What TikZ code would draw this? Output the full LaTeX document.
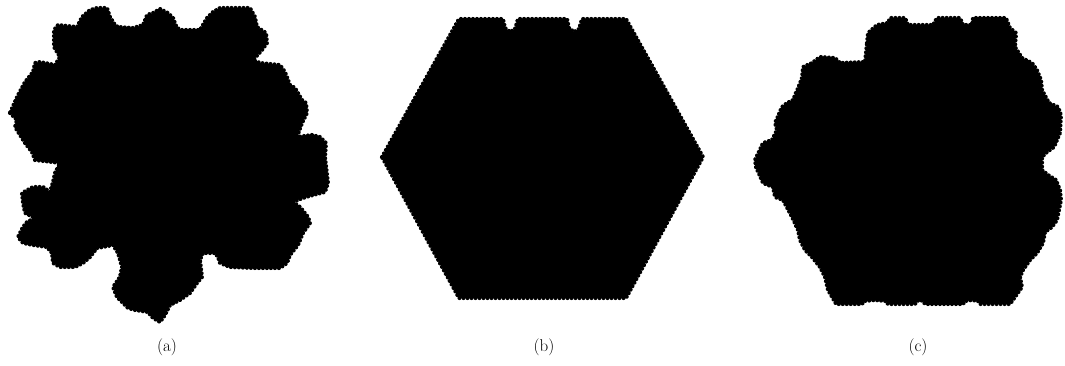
\documentclass[tikz,border=0pt]{standalone}
\usetikzlibrary{decorations.markings}
\begin{document}
\begin{tikzpicture}[x=1pt,y=-1pt,
  blob/.style={fill=black, line join=round, postaction={decorate},
    decoration={markings, mark=between positions 0 and 1 step 4pt with {\fill[black] (0,0) circle (2.1pt);}}},
  caption/.style={font=\fontsize{17}{20}\selectfont, inner sep=0pt}]
\useasboundingbox (0,0) rectangle (1065,366);
% (a)
\path[blob] (10,113) -- (17,120) -- (15,127) -- (20,135) -- (25,143) -- (32,152) -- (35,160) -- (52,162) -- (60,163) -- (55,173) -- (53,182) -- (50,192) -- (43,187) -- (33,187) -- (22,193) -- (23,203) -- (25,213) -- (35,218) -- (27,222) -- (23,227) -- (18,237) -- (23,243) -- (33,245) -- (47,247) -- (52,253) -- (53,263) -- (60,267) -- (75,267) -- (83,263) -- (90,257) -- (97,248) -- (103,247) -- (113,245) -- (118,253) -- (122,267) -- (120,277) -- (113,287) -- (117,297) -- (128,308) -- (135,310) -- (148,312) -- (153,318) -- (160,322) -- (165,315) -- (170,305) -- (180,300) -- (190,293) -- (197,283) -- (202,277) -- (200,260) -- (203,253) -- (215,253) -- (218,257) -- (220,263) -- (230,267) -- (253,268) -- (280,268) -- (287,263) -- (290,255) -- (298,245) -- (303,233) -- (310,223) -- (308,217) -- (300,207) -- (293,202) -- (303,198) -- (313,195) -- (325,192) -- (328,183) -- (325,157) -- (326,143) -- (320,137) -- (312,135) -- (297,137) -- (302,123) -- (307,113) -- (306,103) -- (302,100) -- (295,88) -- (290,85) -- (285,72) -- (280,65) -- (260,63) -- (253,60) -- (262,50) -- (267,43) -- (266,33) -- (257,27) -- (255,17) -- (250,8) -- (220,8) -- (213,12) -- (207,18) -- (200,30) -- (182,30) -- (177,28) -- (173,18) -- (168,13) -- (160,9) -- (153,13) -- (147,15) -- (143,25) -- (133,28) -- (118,27) -- (115,25) -- (110,17) -- (107,8) -- (97,8) -- (90,10) -- (82,17) -- (77,27) -- (58,25) -- (54,30) -- (54,47) -- (60,57) -- (55,65) -- (40,62) -- (35,63) -- (33,72) -- (25,82) -- (17,97) -- cycle;
% (b)
\path[blob] (382,157) -- (459,19) -- (503,19) -- (505,28) -- (510,32) -- (515,29) -- (518,19) -- (567,19) -- (569,28) -- (574,32) -- (579,29) -- (582,19) -- (626,19) -- (703,157) -- (626,298) -- (459,298) -- cycle;
% (c)
\path[blob] (867,43) -- (868,33) -- (877,25) -- (888,23) -- (890,18) -- (905,18) -- (908,25) -- (933,25) -- (937,18) -- (960,18) -- (963,25) -- (972,25) -- (973,18) -- (1006,18) -- (1010,28) -- (1016,33) -- (1015,47) -- (1022,58) -- (1032,63) -- (1037,70) -- (1041,80) -- (1042,90) -- (1049,103) -- (1058,107) -- (1061,115) -- (1060,133) -- (1054,147) -- (1047,152) -- (1042,157) -- (1042,170) -- (1048,175) -- (1056,180) -- (1060,190) -- (1061,200) -- (1057,220) -- (1052,227) -- (1045,232) -- (1043,243) -- (1037,253) -- (1030,260) -- (1023,270) -- (1020,277) -- (1022,287) -- (1015,297) -- (1010,304) -- (980,304) -- (978,301) -- (972,300) -- (965,301) -- (963,304) -- (925,304) -- (923,301) -- (920,300) -- (917,301) -- (915,304) -- (888,304) -- (886,301) -- (875,300) -- (864,301) -- (862,304) -- (836,304) -- (835,302) -- (828,290) -- (825,277) -- (820,267) -- (812,257) -- (805,250) -- (800,240) -- (798,230) -- (792,217) -- (783,200) -- (775,197) -- (773,187) -- (763,183) -- (756,167) -- (755,160) -- (763,143) -- (772,140) -- (777,130) -- (775,123) -- (782,107) -- (787,103) -- (793,100) -- (798,88) -- (802,78) -- (803,67) -- (812,63) -- (820,57) -- (835,58) -- (840,63) -- (865,62) -- cycle;
% captions
\node[caption] (la) at (167,347) {(a)};
\node[caption] (lb) at (544,347) {(b)};
\node[caption] (lc) at (918,347) {(c)};
\end{tikzpicture}
\end{document}
